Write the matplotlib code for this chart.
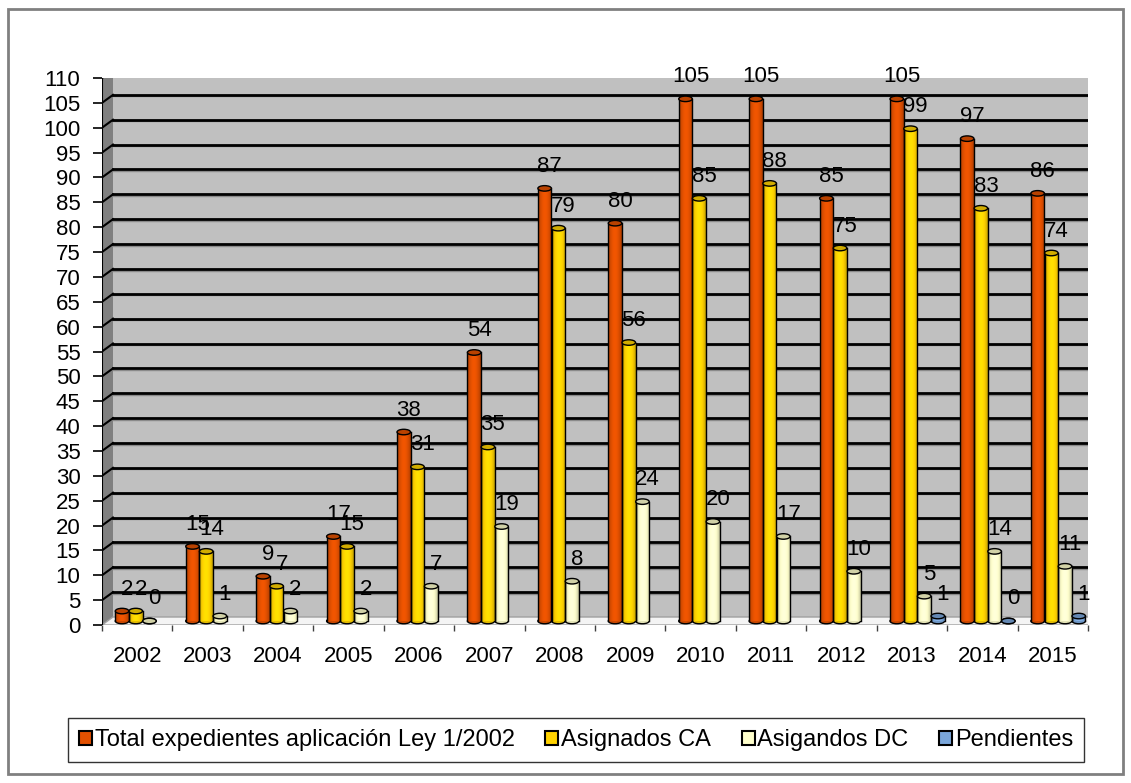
import numpy as np
import matplotlib
matplotlib.use("Agg")
import matplotlib.pyplot as plt
from matplotlib.patches import Rectangle, Polygon, Ellipse, Patch
from matplotlib.colors import to_rgb

plt.rcParams["font.family"] = ["Liberation Sans", "DejaVu Sans"]

years = ["2002", "2003", "2004", "2005", "2006", "2007", "2008",
         "2009", "2010", "2011", "2012", "2013", "2014", "2015"]
total = [2, 15, 9, 17, 38, 54, 87, 80, 105, 105, 85, 105, 97, 86]
asig_ca = [2, 14, 7, 15, 31, 35, 79, 56, 85, 88, 75, 99, 83, 74]
asig_dc = [0, 1, 2, 2, 7, 19, 8, 24, 20, 17, 10, 5, 14, 11]
pendientes = [np.nan] * 11 + [1, 0, 1]

series_names = ["Total expedientes aplicación Ley 1/2002", "Asignados CA",
                "Asigandos DC", "Pendientes"]
series_vals = [total, asig_ca, asig_dc, pendientes]
colors = ["#E25000", "#FFD200", "#FFFFCC", "#7AA6DA"]

W, H = 1131, 783
fig = plt.figure(figsize=(W / 100, H / 100), dpi=100)
fig.patches.append(Rectangle((8 / W, 9 / H), 1115 / W, 765 / H, transform=fig.transFigure,
                             fill=False, edgecolor="#808080", lw=2))

# front plane of the pseudo-3D plot area
ax = fig.add_axes([102 / W, (H - 625) / H, 986 / W, 547 / H])
ax.patch.set_visible(False)
for s in ax.spines.values():
    s.set_visible(False)

n = len(years)
xmin, xmax, ymax = -0.5, n - 0.5, 110
px_x = 986 / n
px_y = 547 / ymax
DX, DY = 11 / px_x, 8 / px_y  # depth offset in data units

# back wall, side wall, floor
ax.add_patch(Rectangle((xmin + DX, DY), n, ymax, facecolor="#c0c0c0", edgecolor="none", zorder=0))
ax.plot([xmax + DX] * 2, [DY, ymax + DY], color="#808080", lw=2.5, zorder=1)
ax.add_patch(Polygon([(xmin, 0), (xmin + DX, DY), (xmin + DX, ymax + DY), (xmin, ymax)],
                     facecolor="#808080", edgecolor="none", zorder=1))
for v in range(5, ymax + 1, 5):
    ax.plot([xmin + DX, xmax + DX], [v + DY - 1.6 / px_y] * 2, color="#8a8a8a", lw=1, zorder=1)
    ax.plot([xmin + DX, xmax + DX], [v + DY] * 2, color="black", lw=2, zorder=1.5)
    ax.plot([xmin, xmin + DX], [v, v + DY], color="black", lw=1.5, zorder=1.5)
ax.add_patch(Polygon([(xmin, 0), (xmax, 0), (xmax + DX, DY), (xmin + DX, DY)],
                     facecolor="#f4f4f4", edgecolor="#a0a0a0", lw=1, zorder=2))
ax.plot([xmin, xmin], [0, ymax], color="black", lw=1.5, zorder=2)

# cylinders
bw = 13.5 / px_x
step = 13.7 / px_x
shift = 5.4 / px_x
eh = 5.5 / px_y
base = DY / 2
t = np.linspace(0, 1, 40)
shade = 0.62 + 0.45 * np.clip(np.sin(np.pi * (t * 0.9 + 0.05)), 0, 1) ** 0.7
for si, (vals, c) in enumerate(zip(series_vals, colors)):
    rgb = np.array(to_rgb(c))
    grad = np.clip(shade[None, :, None] * rgb[None, None, :], 0, 1)
    top_c = np.clip(rgb * 0.82, 0, 1)
    for i, v in enumerate(vals):
        if np.isnan(v):
            continue
        xc = i + shift + (si - 1.5) * step
        x0, x1 = xc - bw / 2, xc + bw / 2
        top = v + base
        ax.add_patch(Ellipse((xc, base), bw, eh, facecolor=grad[0, 5], edgecolor="black",
                             lw=1, zorder=3))
        if v > 0:
            ax.imshow(grad, extent=[x0, x1, base, top], aspect="auto",
                      interpolation="bilinear", zorder=3.1)
            ax.plot([x0, x0], [base, top], color="black", lw=1, zorder=3.2)
            ax.plot([x1, x1], [base, top], color="black", lw=1, zorder=3.2)
        ax.add_patch(Ellipse((xc, top), bw, eh, facecolor=top_c, edgecolor="black",
                             lw=1, zorder=3.3))
        ax.annotate(f"{v:g}", (xc, top), xytext=(5, 22), textcoords="offset pixels",
                    ha="center", va="center", fontsize=16, zorder=5)

ax.set_xlim(xmin, xmax)
ax.set_ylim(0, ymax)
ax.set_yticks(range(0, ymax + 1, 5))
ax.tick_params(axis="y", length=6.5, width=1.2, pad=9, labelsize=16)
ax.set_xticks(range(n))
ax.set_xticklabels(years)
ax.set_xticks(np.arange(xmin, xmax + 0.1, 1), minor=True)
ax.tick_params(axis="x", which="major", length=0, pad=15, labelsize=16)
ax.tick_params(axis="x", which="minor", length=4.5, width=1, color="#404040")

handles = [Patch(facecolor=c, edgecolor="black", lw=1.5) for c in colors]
fig.legend(handles, series_names, loc="center", bbox_to_anchor=(576 / W, 1 - 740 / H),
           ncol=4, fontsize=17, frameon=True, fancybox=False, edgecolor="black",
           handlelength=0.55, handleheight=0.55, handletextpad=0.12, columnspacing=1.3,
           borderpad=0.45, borderaxespad=0)

fig.savefig("out.png", dpi=100)
